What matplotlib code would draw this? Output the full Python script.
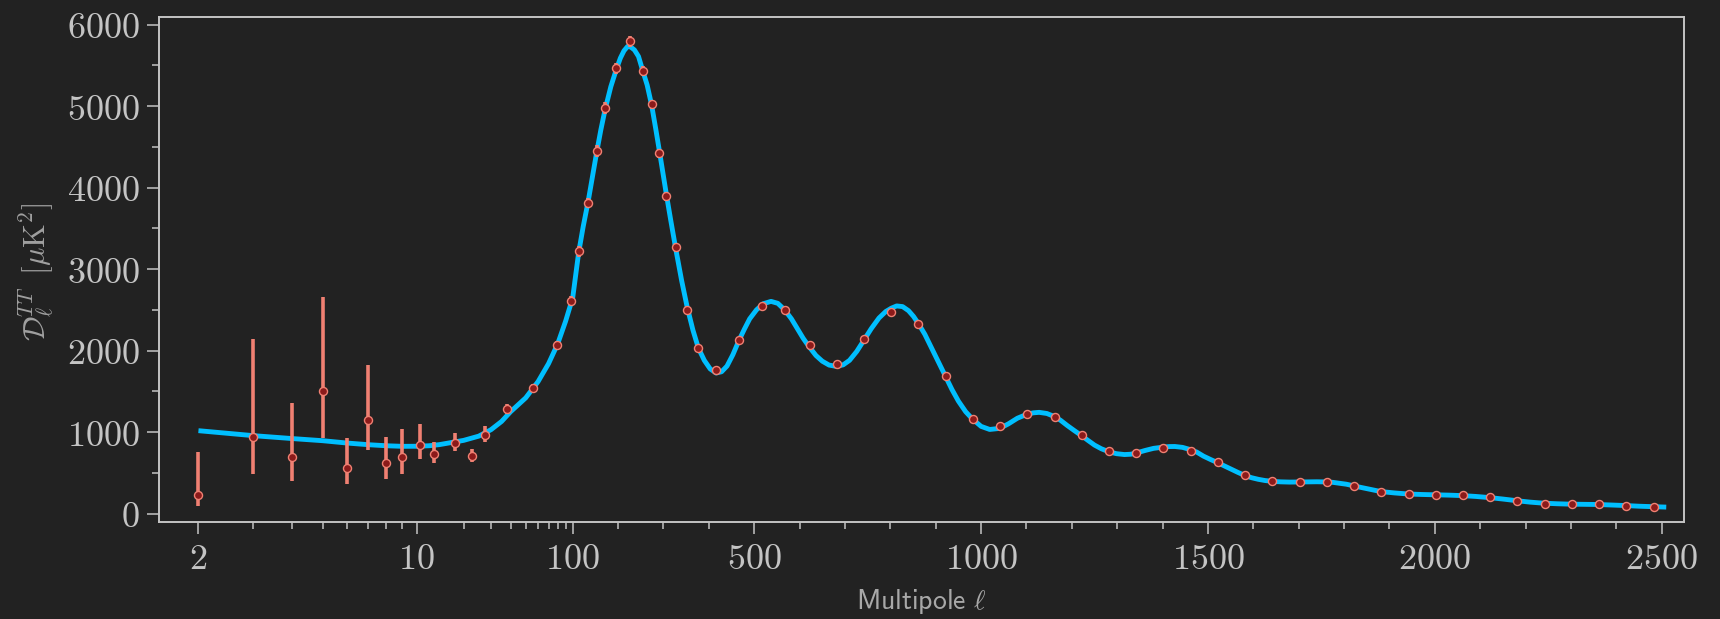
import numpy as np
import matplotlib
matplotlib.use('Agg')
import matplotlib.pyplot as plt

plt.rcParams['mathtext.fontset'] = 'cm'

# low-ell points (asymmetric errors)
ell_lo = [2, 3, 4, 5, 6, 7, 8, 9, 10.5, 13, 17.5, 22.5, 27.5]
dl_lo = [228, 940, 694, 1500, 559, 1152, 616, 698, 842, 727, 861, 702, 968]
err_lo_minus = [131, 450, 290, 572, 201, 376, 192, 217, 172, 111, 93, 65, 89]
err_lo_plus = [528, 1202, 658, 1153, 369, 666, 319, 344, 261, 155, 123, 91, 102]

# binned high-ell points
ell_hi = [38, 56, 79, 98, 113, 134, 153, 171, 196, 227, 254, 274, 291, 306, 327,
          352, 377, 416, 466, 517, 567, 622, 682, 742,
          802, 862, 922, 982, 1042, 1102, 1162, 1222, 1282, 1342, 1402, 1462,
          1522, 1582, 1642, 1702, 1762, 1822, 1882, 1942, 2002, 2062, 2122,
          2182, 2242, 2302, 2362, 2422, 2482]
dl_hi = [1287, 1545, 2070, 2612, 3217, 3811, 4452, 4977, 5463, 5794, 5434, 5021,
         4420, 3892, 3266, 2498, 2032, 1766, 2130, 2547, 2498, 2064, 1839, 2137,
         2474, 2326, 1683, 1164, 1078, 1217, 1185, 960, 763, 747, 805, 772, 628,
         469, 395, 391, 383, 334, 269, 240, 232, 223, 204, 150, 121, 113, 121, 97, 76]
err_hi = [60, 45, 50, 60, 70, 65, 70, 70, 70, 70, 60, 60, 60, 55, 50, 45, 40, 30,
          30, 30, 28, 25, 25, 25,
          22, 22, 22, 22, 22, 22, 22, 22, 22, 22, 18, 18, 18, 18, 18, 18, 18, 18,
          18, 18, 15, 15, 15, 15, 15, 15, 15, 15, 15]

# best-fit model curve
ell_th = [2, 3, 4, 5, 6, 7, 8, 9, 10, 12,
          14, 17, 20, 25, 30, 35, 40, 50, 60, 70,
          80, 90, 100, 106, 113, 123, 134, 144, 153, 162,
          171, 184, 196, 205, 213, 221, 228, 236, 245, 254,
          264, 274, 283, 291, 299, 306, 316, 327, 340, 352,
          365, 377, 390, 403, 416, 428, 440, 453, 466, 478,
          490, 505, 520, 537, 552, 567, 582, 595, 608, 622,
          636, 650, 665, 681, 696, 710, 726, 742, 758, 775,
          790, 802, 814, 827, 840, 851, 862, 876, 890, 906,
          922, 936, 950, 966, 981, 1000, 1019, 1041, 1060, 1080,
          1101, 1115, 1128, 1145, 1161, 1175, 1190, 1205, 1221, 1235,
          1250, 1265, 1281, 1298, 1316, 1330, 1345, 1362, 1380, 1401,
          1415, 1427, 1444, 1461, 1475, 1490, 1505, 1521, 1536, 1551,
          1566, 1581, 1596, 1611, 1626, 1641, 1660, 1680, 1700, 1720,
          1740, 1761, 1775, 1790, 1805, 1821, 1836, 1851, 1866, 1881,
          1911, 1941, 1971, 2001, 2031, 2061, 2090, 2120, 2150, 2180,
          2210, 2240, 2270, 2300, 2330, 2360, 2390, 2421, 2450, 2480,
          2510]
dl_th = [1017, 956, 920, 894, 865, 845, 832, 825, 826, 832,
         846, 874, 898, 950, 1030, 1130, 1250, 1420, 1620, 1840,
         2080, 2360, 2650, 2900, 3200, 3520, 3830, 4150, 4440, 4710,
         4950, 5240, 5450, 5590, 5680, 5733, 5725, 5690, 5610, 5440,
         5260, 5010, 4720, 4450, 4170, 3930, 3600, 3250, 2860, 2540,
         2250, 2030, 1880, 1775, 1725, 1740, 1810, 1950, 2120, 2260,
         2390, 2500, 2575, 2604, 2580, 2500, 2390, 2270, 2150, 2040,
         1940, 1870, 1822, 1806, 1825, 1880, 1990, 2130, 2270, 2400,
         2480, 2520, 2548, 2540, 2490, 2420, 2330, 2200, 2040, 1860,
         1680, 1520, 1380, 1250, 1160, 1070, 1032, 1045, 1100, 1170,
         1218, 1236, 1242, 1228, 1192, 1145, 1080, 1020, 958, 900,
         840, 795, 760, 735, 724, 728, 748, 775, 800, 815,
         822, 823, 812, 785, 755, 705, 665, 625, 585, 545,
         505, 468, 440, 420, 405, 396, 389, 386, 387, 389,
         390, 388, 383, 372, 360, 340, 322, 305, 288, 270,
         253, 240, 234, 230, 226, 220, 210, 196, 178, 158,
         140, 127, 120, 115, 113, 111, 105, 98, 90, 84,
         79]

major_ticks = [2, 10, 100, 500, 1000, 1500, 2000, 2500]
minor_ticks = [3, 4, 5, 6, 7, 8, 9, 20, 30, 40, 50, 60, 70, 80, 90] + \
    [m for m in range(200, 2500, 100) if m % 500 != 0]

# hybrid axis: stretched log below 10, log 10-100, linear above 100
K = 0.4535 / 156.0


def fwd(x):
    x = np.clip(np.asarray(x, dtype=float), 1e-3, None)
    return np.where(x <= 10, 2 * np.log10(x) - 1,
                    np.where(x <= 100, np.log10(x), 2 + (x - 100) * K))


def inv(u):
    u = np.asarray(u, dtype=float)
    return np.where(u <= 1, 10 ** ((np.minimum(u, 1) + 1) / 2),
                    np.where(u <= 2, 10 ** np.clip(u, 1, 2), 100 + (u - 2) / K))


bg = '#222222'
fg = '#c4c4c4'
fig = plt.figure(figsize=(17.2, 6.19), dpi=100, facecolor=bg)
ax = fig.add_axes([0.0927, 0.1572, 0.8866, 0.8161], facecolor=bg)
ax.set_xscale('function', functions=(fwd, inv))

ax.plot(ell_th, dl_th, color='#00bfff', lw=3.5, zorder=2,
        solid_joinstyle='round', solid_capstyle='butt')
ax.errorbar(ell_lo, dl_lo, yerr=[err_lo_minus, err_lo_plus], fmt='o', ms=5.8,
            mfc='#8b1a1a', mec='#f08072', mew=1.0, ecolor='#f08072', elinewidth=2.6,
            capsize=0, zorder=3)
ax.errorbar(ell_hi, dl_hi, yerr=err_hi, fmt='o', ms=5.8,
            mfc='#8b1a1a', mec='#f08072', mew=1.0, ecolor='#f08072', elinewidth=2.6,
            capsize=0, zorder=3)

ax.set_xlim(1.5, 2550)
ax.set_ylim(-100, 6100)
ax.set_xticks(major_ticks)
ax.set_xticklabels(['$%d$' % t for t in major_ticks])
ax.set_xticks(minor_ticks, minor=True)
ax.set_xticklabels([], minor=True)
yt = list(range(0, 6001, 1000))
ax.set_yticks(yt)
ax.set_yticklabels(['$%d$' % t for t in yt])
ax.set_yticks(list(range(500, 6000, 1000)), minor=True)

ax.tick_params(which='major', length=8.5, width=1.1, color=fg, labelcolor=fg,
               labelsize=26, pad=6)
ax.tick_params(which='minor', length=5, width=1.1, color=fg)
for s in ax.spines.values():
    s.set_color(fg)
    s.set_linewidth(1.4)

fig.text(921 / 1720, 1 - 602 / 619, r'$\mathsf{Multipole}\ \ell$', color='#a8a8a8',
         fontsize=20, ha='center', va='center')
fig.text(36 / 1720, 1 - 272 / 619, r'$\mathcal{D}_{\ell}^{TT}\;\;[\mu\mathrm{K}^2]$',
         color='#a0a0a0', fontsize=22, ha='center', va='center', rotation=90)

fig.savefig('out.png', dpi=100, facecolor=bg)
